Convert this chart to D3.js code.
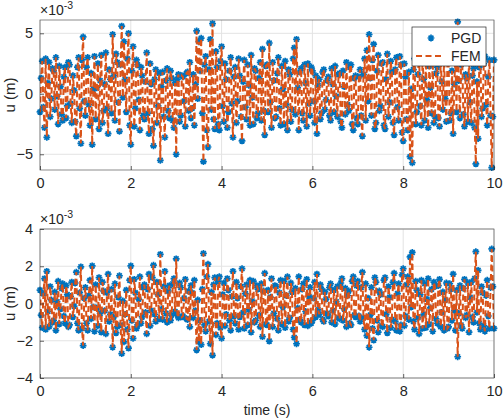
<!DOCTYPE html>
<html>
<head>
<meta charset="utf-8">
<script src="https://cdn.jsdelivr.net/npm/d3@7"></script>
<style>
  body { margin: 0; background: #fff; }
  svg text { font-family: "Liberation Sans", Arial, Helvetica, sans-serif; fill: #262626; }
</style>
</head>
<body>
<div id="chart"></div>
<script>
// time step of the sampled response (s)
var dt = 0.025;

// top subplot, u in units of 1e-3 m (PGD and FEM coincide)
var u_top = [
  -1.5, 1.3, 2.7, -1.1, -2.8, 2.9, -3.6, 0.9, 2.6, -1.9, -0.4, 2.1, 1.9, -1.3, 3.0, -0.2, -2.5, 2.3, 0.6, -1.7, -2.2, 1.4, 2.2, -2.0, -1.0, 2.6, 2.4, -0.8, -2.4, 1.5, 0.3, -2.3, -3.5, 2.2, 3.0, -1.2, -4.1, 2.8, 4.7, -0.6,
  -1.8, 2.2, 3.0, -0.9, -2.6, 1.7, -4.2, 0.4, 3.1, -2.1, 0.5, 2.5, -2.9, 1.1, 3.2, -2.4, -1.4, 0.8, 3.4, -1.2, -3.3, 2.0, 1.2, -1.6, 4.9, 1.5, -2.2, 3.3, 2.6, -0.7, -3.1, 2.4, 5.6, -0.3, 4.3, 1.2, -1.5, 2.9, 5.0, -2.6,
  -4.2, 1.9, 3.9, -2.7, -1.2, 2.8, 2.4, -0.5, -3.0, 2.2, 1.5, -1.8, -2.1, 1.0, 3.4, -1.6, -3.3, 2.5, 0.8, -2.9, -4.3, 1.2, 2.0, -2.4, -1.0, 1.7, -5.5, 0.6, 1.8, -1.9, -3.6, 1.1, 2.1, -1.4, -2.0, 1.9, 1.3, -2.2, -2.8, 0.9,
  -5.0, 1.2, 1.6, -2.3, -1.8, 1.5, 1.4, -0.6, -2.7, 1.7, 1.8, -1.4, 2.6, -2.0, -1.2, 1.6, -2.6, 0.8, 5.2, -0.4, 4.3, 1.9, 4.6, -1.6, -5.6, 2.4, 3.1, -3.0, -4.4, 2.0, 4.5, -1.3, 5.8, -2.1, -2.9, 3.5, 2.2, -2.5, -3.0, 2.7,
  3.9, -1.0, -2.3, 2.5, 1.2, -2.8, -1.5, 1.9, 3.0, -0.8, -3.6, 1.4, 2.2, -2.4, -0.6, 2.9, 1.5, -1.9, -3.9, 1.0, 2.8, -1.1, -2.1, 2.4, 0.7, -2.6, 3.2, -0.3, -2.5, 2.1, 1.9, -2.0, -1.6, 1.3, 2.6, -2.2, 3.7, -1.4, -3.4, 2.3,
  2.4, -1.5, 4.2, -0.7, -2.8, 2.6, 1.1, -2.0, -1.9, 1.7, 3.0, -1.2, -2.6, 2.3, 0.4, -2.5, 2.7, -0.9, -3.0, 2.0, 1.6, -2.3, -1.3, 2.9, 3.8, -1.7, 4.5, 0.5, -3.0, 1.8, 2.1, -1.6, -2.2, 2.4, 0.9, -2.7, 2.5, -0.8, -1.8, 2.2,
  1.9, -0.6, -2.4, 1.5, -3.3, 0.7, 1.2, -2.1, -1.6, 1.8, 2.0, -1.3, -0.5, 1.1, 1.4, -1.8, -2.2, 2.1, 0.8, -1.5, 2.3, -0.2, -1.9, 1.6, 1.7, -2.3, -2.8, 1.9, 0.6, -1.7, 2.6, -0.9, -1.4, 2.2, 2.4, -2.5, -3.0, 1.3, 1.5, -2.0,
  -2.5, 1.4, 2.0, -1.8, -3.5, 1.6, 2.9, -2.2, 3.6, -0.6, 4.9, 1.3, -1.8, 2.8, 4.1, -2.9, -2.4, 1.9, 3.2, -1.4, -1.0, 2.5, 2.6, -2.6, -2.9, 1.2, 3.3, -1.9, -0.7, 2.7, 1.8, -2.4, -3.4, 2.0, 3.0, -1.1, -2.2, 3.1, 2.4, -3.2,
  -3.9, 2.5, 1.4, -2.1, -3.0, 1.8, -5.2, 0.4, -5.7, 2.0, 2.9, -2.5, -1.5, 1.6, 3.4, -1.0, -2.6, 2.8, 1.2, -2.2, 2.7, -0.5, -2.8, 2.3, 0.5, -1.6, 3.1, -2.4, -1.9, 1.7, 2.2, -2.0, -2.7, 2.6, 1.0, -1.3, 3.0, -0.4, -2.3, 2.8,
  2.6, -2.2, -1.6, 1.9, -3.3, 0.8, 3.0, -1.5, 5.95, 1.1, -2.0, 2.4, 2.8, -1.7, -2.7, 1.6, 1.3, -2.3, 3.2, -0.7, -2.4, 1.5, 2.1, -2.8, -5.8, 1.0, -3.7, 2.2, 2.9, -1.9, -1.2, 2.5, 3.1, -0.9, -2.6, 1.4, 2.8, -1.8, -6.1, -1.9,
  2.8
];

// bottom subplot, u in units of 1e-3 m
var u_bot = [
  0.72, -0.62, -1.30, 0.53, 1.34, -1.39, 1.73, -0.43, -1.25, 0.91, 0.19, -1.01, -0.91, 0.62, -1.44, 0.10, 1.20, -1.10, -0.29, 0.82, 1.06, -0.67, -1.06, 0.96, 0.48, -1.25, -1.15, 0.38, 1.15, -0.72, -0.14, 1.10, 1.68, -1.06, -1.44, 0.58, 1.97, -1.34, -2.26, 0.29,
  0.86, -1.06, -1.44, 0.43, 1.25, -0.82, 2.02, -0.19, -1.49, 1.01, -0.24, -1.20, 1.39, -0.53, -1.54, 1.15, 0.67, -0.38, -1.63, 0.58, 1.58, -0.96, -0.58, 0.77, -2.35, -0.72, 1.06, -1.58, -1.25, 0.34, 1.49, -1.15, -2.69, 0.14, -2.06, -0.58, 0.72, -1.39, -2.40, 1.25,
  2.02, -0.91, -1.87, 1.30, 0.58, -1.34, -1.15, 0.24, 1.44, -1.06, -0.72, 0.86, 1.01, -0.48, -1.63, 0.77, 1.58, -1.20, -0.38, 1.39, 2.06, -0.58, -0.96, 1.15, 0.48, -0.82, 2.64, -0.29, -0.86, 0.91, 1.73, -0.53, -1.01, 0.67, 0.96, -0.91, -0.62, 1.06, 1.34, -0.43,
  2.40, -0.58, -0.77, 1.10, 0.86, -0.72, -0.67, 0.29, 1.30, -0.82, -0.86, 0.67, -1.25, 0.96, 0.58, -0.77, 1.25, -0.38, -2.50, 0.19, -2.06, -0.91, -2.21, 0.77, 2.69, -1.15, -1.49, 1.44, 2.11, -0.96, -2.16, 0.62, -2.78, 1.01, 1.39, -1.68, -1.06, 1.20, 1.44, -1.30,
  -1.87, 0.48, 1.10, -1.20, -0.58, 1.34, 0.72, -0.91, -1.44, 0.38, 1.73, -0.67, -1.06, 1.15, 0.29, -1.39, -0.72, 0.91, 1.87, -0.48, -1.34, 0.53, 1.01, -1.15, -0.34, 1.25, -1.54, 0.14, 1.20, -1.01, -0.91, 0.96, 0.77, -0.62, -1.25, 1.06, -1.78, 0.67, 1.63, -1.10,
  -1.15, 0.72, -2.02, 0.34, 1.34, -1.25, -0.53, 0.96, 0.91, -0.82, -1.44, 0.58, 1.25, -1.10, -0.19, 1.20, -1.30, 0.43, 1.44, -0.96, -0.77, 1.10, 0.62, -1.39, -1.82, 0.82, -2.16, -0.24, 1.44, -0.86, -1.01, 0.77, 1.06, -1.15, -0.43, 1.30, -1.20, 0.38, 0.86, -1.06,
  -0.91, 0.29, 1.15, -0.72, 1.58, -0.34, -0.58, 1.01, 0.77, -0.86, -0.96, 0.62, 0.24, -0.53, -0.67, 0.86, 1.06, -1.01, -0.38, 0.72, -1.10, 0.10, 0.91, -0.77, -0.82, 1.10, 1.34, -0.91, -0.29, 0.82, -1.25, 0.43, 0.67, -1.06, -1.15, 1.20, 1.44, -0.62, -0.72, 0.96,
  1.20, -0.67, -0.96, 0.86, 1.68, -0.77, -1.39, 1.06, -1.73, 0.29, -2.35, -0.62, 0.86, -1.34, -1.97, 1.39, 1.15, -0.91, -1.54, 0.67, 0.48, -1.20, -1.25, 1.25, 1.39, -0.58, -1.58, 0.91, 0.34, -1.30, -0.86, 1.15, 1.63, -0.96, -1.44, 0.53, 1.06, -1.49, -1.15, 1.54,
  1.87, -1.20, -0.67, 1.01, 1.44, -0.86, 2.50, -0.19, 2.74, -0.96, -1.39, 1.20, 0.72, -0.77, -1.63, 0.48, 1.25, -1.34, -0.58, 1.06, -1.30, 0.24, 1.34, -1.10, -0.24, 0.77, -1.49, 1.15, 0.91, -0.82, -1.06, 0.96, 1.30, -1.25, -0.48, 0.62, -1.44, 0.19, 1.10, -1.34,
  -1.25, 1.06, 0.77, -0.91, 1.58, -0.38, -1.44, 0.72, -2.86, -0.53, 0.96, -1.15, -1.34, 0.82, 1.30, -0.77, -0.62, 1.10, -1.54, 0.34, 1.15, -0.72, -1.01, 1.34, 2.78, -0.48, 1.78, -1.06, -1.39, 0.91, 0.58, -1.20, -1.49, 0.43, 1.25, -0.67, -1.34, 0.86, 2.93, 0.91,
  -1.34
];

var xTicks = [0, 2, 4, 6, 8, 10];
var yTicksTop = [-5, 0, 5];
var yTicksBot = [-4, -2, 0, 2, 4];
var legendLabels = ["PGD", "FEM"];

var blue = "#0072BD", orange = "#D95319", axisCol = "#262626", gridCol = "#e3e3e3";

var width = 504, height = 419;
var svg = d3.select("#chart").append("svg")
    .attr("width", width)
    .attr("height", height);

// asterisk marker like matlab '*'
function star(r) {
  var d = r * 0.7071;
  return "M" + (-r) + ",0L" + r + ",0M0," + (-r) + "L0," + r +
         "M" + (-d) + "," + (-d) + "L" + d + "," + d +
         "M" + (-d) + "," + d + "L" + d + "," + (-d);
}

function panel(id, vals, top, bottom, ydom, yticks) {
  var left = 40, right = 494;
  var x = d3.scaleLinear().domain([0, 10]).range([left, right]);
  var y = d3.scaleLinear().domain(ydom).range([bottom, top]);
  var data = vals.map(function(v, i) { return { t: i * dt, u: v }; });

  var g = svg.append("g");

  svg.append("clipPath").attr("id", "clip_" + id)
    .append("rect").attr("x", left).attr("y", top)
    .attr("width", right - left).attr("height", bottom - top);

  // grid
  g.append("g").selectAll("line.gx").data(xTicks).enter().append("line")
    .attr("x1", function(d) { return x(d); }).attr("x2", function(d) { return x(d); })
    .attr("y1", top).attr("y2", bottom)
    .attr("stroke", gridCol).attr("stroke-width", 1);
  g.append("g").selectAll("line.gy").data(yticks).enter().append("line")
    .attr("x1", left).attr("x2", right)
    .attr("y1", function(d) { return y(d); }).attr("y2", function(d) { return y(d); })
    .attr("stroke", gridCol).attr("stroke-width", 1);

  // PGD markers
  g.append("g")
    .selectAll("path").data(data).enter().append("path")
    .attr("transform", function(d) { return "translate(" + x(d.t) + "," + y(d.u) + ")"; })
    .attr("d", star(3.4))
    .attr("stroke", blue).attr("stroke-width", 1.7).attr("fill", "none");

  // FEM dashed line
  var line = d3.line().x(function(d) { return x(d.t); }).y(function(d) { return y(d.u); });
  g.append("path").datum(data)
    .attr("clip-path", "url(#clip_" + id + ")")
    .attr("d", line)
    .attr("fill", "none").attr("stroke", orange)
    .attr("stroke-width", 2).attr("stroke-dasharray", "6,3.5");

  // axes box + ticks
  var xAxis = d3.axisBottom(x).tickValues(xTicks).tickSize(-4).tickPadding(8).tickFormat(d3.format("d"));
  var yAxis = d3.axisLeft(y).tickValues(yticks).tickSize(-4).tickPadding(7).tickFormat(d3.format("d"));
  var ax = g.append("g").attr("transform", "translate(0," + bottom + ")").call(xAxis);
  var ay = g.append("g").attr("transform", "translate(" + left + ",0)").call(yAxis);
  [ax, ay].forEach(function(a) {
    a.select(".domain").remove();
    a.selectAll(".tick line").attr("stroke", axisCol).attr("stroke-width", 0.7);
    a.selectAll(".tick text").style("font-size", "14.5px").attr("fill", axisCol);
  });
  g.append("rect").attr("x", left).attr("y", top)
    .attr("width", right - left).attr("height", bottom - top)
    .attr("fill", "none").attr("stroke", axisCol).attr("stroke-width", 0.7).attr("stroke-opacity", 0.75);

  // exponent label
  var ex = g.append("text").attr("x", left).attr("y", top - 5).style("font-size", "14px");
  ex.append("tspan").text("×10");
  ex.append("tspan").attr("dy", -6).style("font-size", "10.5px").text("-3");

  // y label
  g.append("text")
    .attr("transform", "translate(15," + ((top + bottom) / 2) + ") rotate(-90)")
    .attr("text-anchor", "middle")
    .style("font-size", "15px")
    .text("u (m)");
  return { x: x, y: y };
}

panel("top", u_top, 20, 170, [-6.3, 6.1], yTicksTop);
panel("bot", u_bot, 229, 378, [-4, 4], yTicksBot);

svg.append("text")
  .attr("x", 267).attr("y", 415)
  .attr("text-anchor", "middle")
  .style("font-size", "14px")
  .text("time (s)");

// legend
var lg = svg.append("g").attr("transform", "translate(412,27)");
lg.append("rect").attr("width", 74).attr("height", 39)
  .attr("fill", "#fff").attr("stroke", axisCol).attr("stroke-width", 0.7);
lg.append("path").attr("transform", "translate(19,11)").attr("d", star(3.4))
  .attr("stroke", blue).attr("stroke-width", 1.7).attr("fill", "none");
lg.append("line").attr("x1", 4).attr("x2", 31).attr("y1", 29).attr("y2", 29)
  .attr("stroke", orange).attr("stroke-width", 2).attr("stroke-dasharray", "6,3.5");
lg.selectAll("text.lab").data(legendLabels).enter().append("text")
  .attr("x", 39).attr("y", function(d, i) { return 16 + i * 18; })
  .style("font-size", "14px")
  .text(function(d) { return d; });
</script>
</body>
</html>
